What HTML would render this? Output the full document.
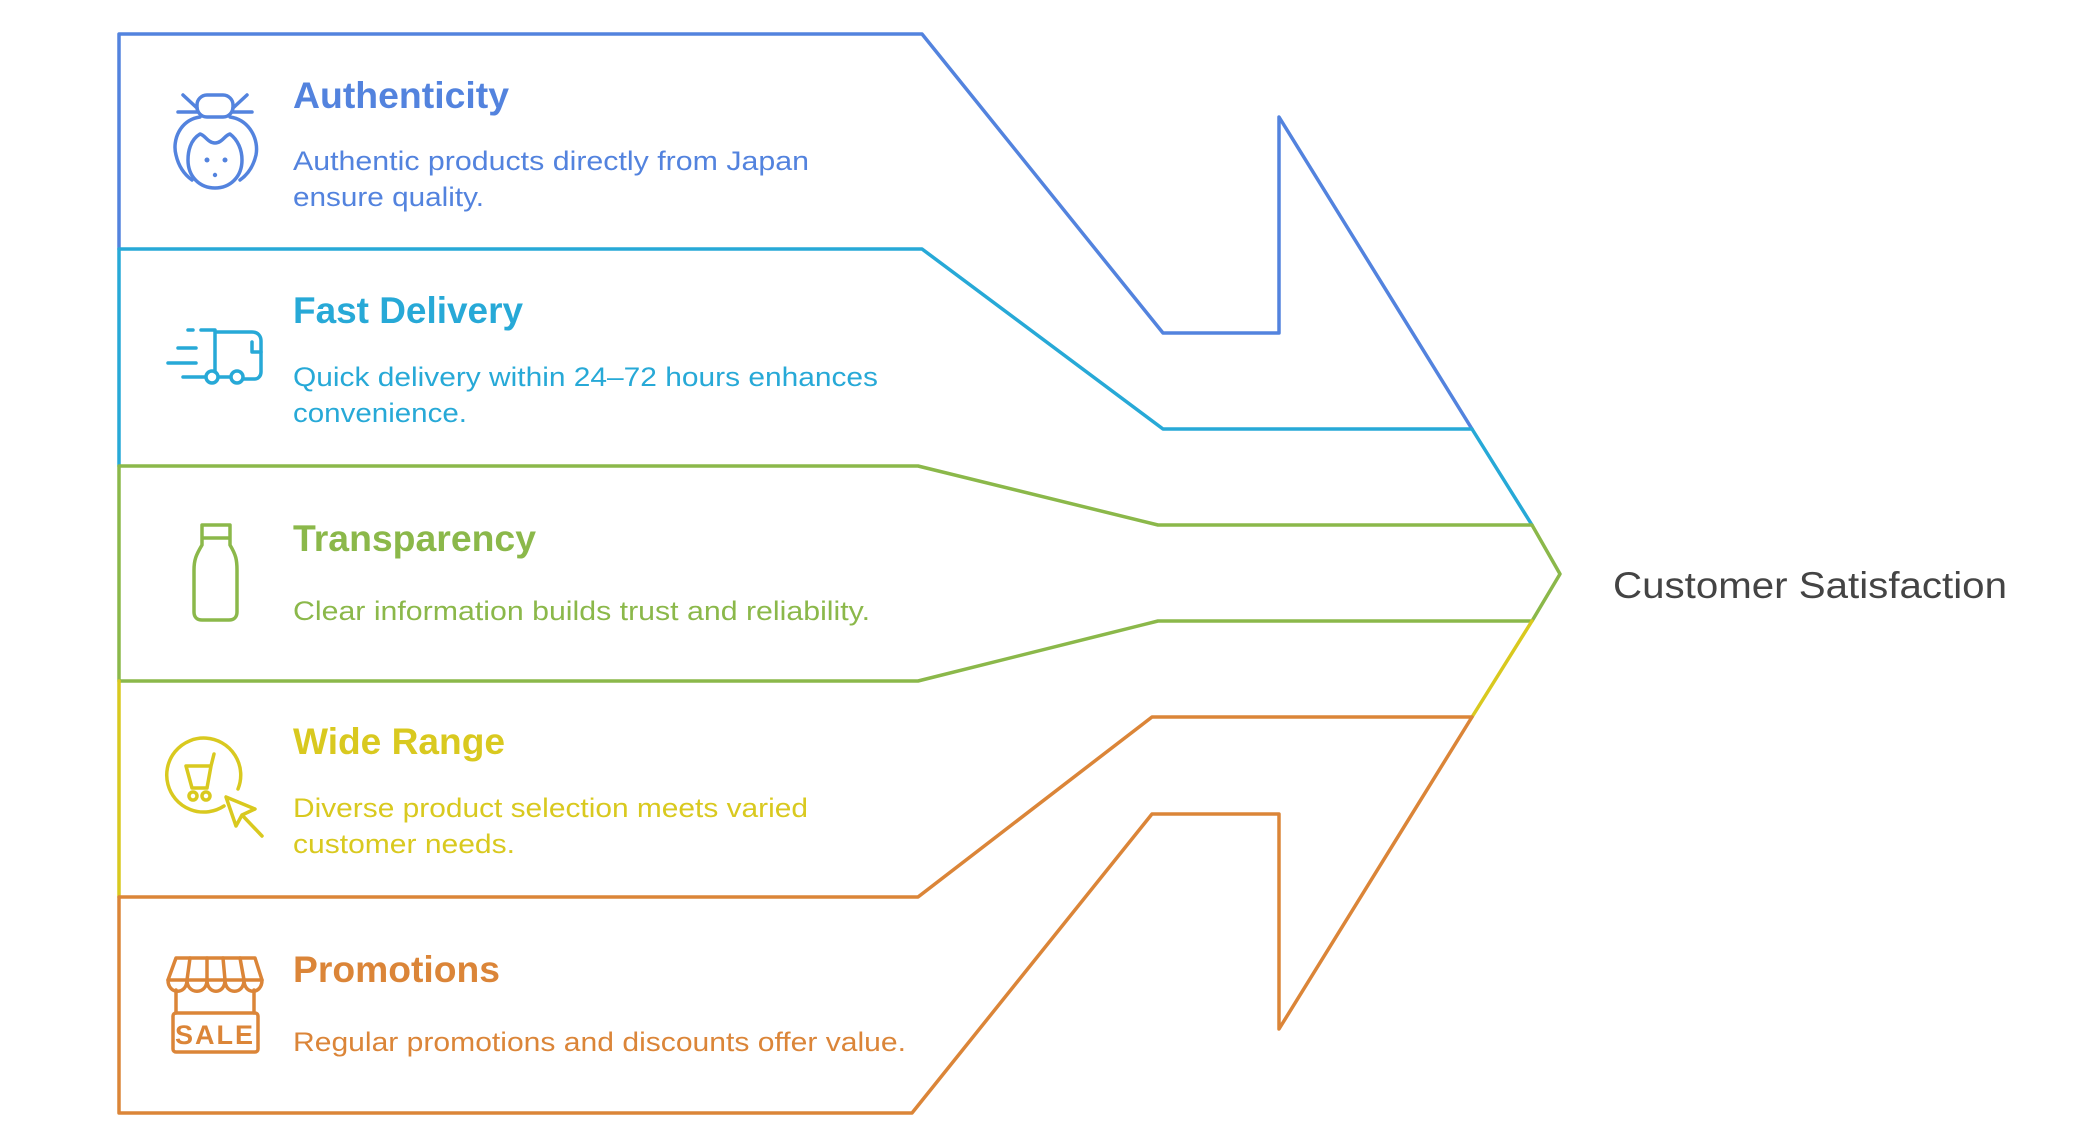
<!DOCTYPE html>
<html><head><meta charset="utf-8"><style>
html,body{margin:0;padding:0;background:#fff;}
svg{display:block;}
text{font-family:"Liberation Sans",sans-serif;}
.t{font-weight:bold;font-size:37px;}
.d{font-size:27px;}
</style></head><body>
<svg width="2096" height="1133" viewBox="0 0 2096 1133" xmlns="http://www.w3.org/2000/svg">
<g fill="none" stroke-width="3.5" stroke-linejoin="round" stroke-linecap="round">
<path d="M119,249 V34 H922 L1163,333 H1279 V117 L1472,429" stroke="#5383DE"/>
<path d="M119,466 V249 H922 L1163,429 H1472 L1532,525" stroke="#27A9D7"/>
<path d="M119,681 V466 H918 L1158,525 H1532 L1560,574 L1532,621 H1158 L918,681 H119" stroke="#8BB84A"/>
<path d="M119,897 V681" stroke="#D9C91F"/>
<path d="M1532,621 L1472,717" stroke="#D9C91F"/>
<path d="M119,897 V1113 H912 L1152,814 H1279 V1029 L1472,717 H1152 L918,897 H119" stroke="#DB8538"/>
</g>

<g fill="none" stroke-width="3.5" stroke-linecap="round" stroke-linejoin="round">
 <g stroke="#5383DE">
  <rect x="197" y="95" width="36" height="22" rx="10"/>
  <path d="M183,95 L197,108 M247,95 L233,108 M178,112 H197 M233,112 H252"/>
  <path d="M200,117 C180,120 172,140 176,155 C179,168 185,175 192,180 M230,117 C250,120 259,140 256,155 C253,168 247,175 240,180"/>
  <path d="M215,143 C208,143 205,135 200,134 C190,140 188,152 188,160 C188,177 200,188 215,188 C230,188 242,177 242,160 C242,150 238,140 230,134 C225,135 222,143 215,143 Z"/>
 </g>
 <g fill="#5383DE"><circle cx="207" cy="160" r="2.5"/><circle cx="225" cy="160" r="2.5"/><circle cx="215" cy="175" r="2.2"/></g>
 <g stroke="#27A9D7">
  <path d="M188,330 H193 M201,330 H215 V372 M215,332 H252 C258,332 261,336 261,341 V372 C261,376 258,379 255,379 H244"/>
  <path d="M252,342 V352 H261"/>
  <path d="M178,348 H196 M168,363 H196 M183,377 H205 M219,377 H230"/>
  <circle cx="212" cy="377" r="6"/><circle cx="237" cy="377" r="6"/>
 </g>
 <g stroke="#8BB84A">
  <path d="M202,525 H230 V545 C236,555 237,560 237,570 V612 C237,617 234,620 229,620 H202 C197,620 194,617 194,612 V570 C194,560 196,555 202,545 Z M202,538 H230"/>
 </g>
 <g stroke="#D9C91F">
  <path d="M224,806 A37,37 0 1 1 238,789"/>
  <path d="M186,766 H211 L207,788 H192 Z M211,766 L214,754"/>
  <circle cx="193" cy="796" r="4"/><circle cx="206" cy="796" r="4"/>
  <path d="M226,797 L236,826 L242,815 L255,809 Z M242,815 L262,836"/>
 </g>
 <g stroke="#DB8538">
  <path d="M176,958 H255 L262,980 H168 Z"/>
  <path d="M190,958 L187,980 M207,958 L207,980 M223,958 L225,980 M240,958 L244,980"/>
  <path d="M168,980 C168,995 187,995 187,980 C187,995 207,995 207,980 C207,995 225,995 225,980 C225,995 244,995 244,980 C244,995 262,995 262,980"/>
  <path d="M176,990 V1013 M254,990 V1013"/>
  <rect x="173" y="1013" width="85" height="39" rx="3"/>
 </g>
 <text x="215" y="1044" text-anchor="middle" font-size="27" font-weight="bold" fill="#DB8538" style="font-family:'Liberation Sans Narrow','Liberation Sans',sans-serif" letter-spacing="2">SALE</text>
</g>

<text class="t" x="293" y="108" fill="#5383DE" textLength="216" lengthAdjust="spacingAndGlyphs">Authenticity</text>
<text class="d" x="293" y="170" fill="#5383DE" textLength="516" lengthAdjust="spacingAndGlyphs">Authentic products directly from Japan</text>
<text class="d" x="293" y="206" fill="#5383DE" textLength="191" lengthAdjust="spacingAndGlyphs">ensure quality.</text>

<text class="t" x="293" y="323" fill="#27A9D7" textLength="230" lengthAdjust="spacingAndGlyphs">Fast Delivery</text>
<text class="d" x="293" y="386" fill="#27A9D7" textLength="585" lengthAdjust="spacingAndGlyphs">Quick delivery within 24–72 hours enhances</text>
<text class="d" x="293" y="422" fill="#27A9D7" textLength="174" lengthAdjust="spacingAndGlyphs">convenience.</text>

<text class="t" x="293" y="551" fill="#8BB84A" textLength="243" lengthAdjust="spacingAndGlyphs">Transparency</text>
<text class="d" x="293" y="620" fill="#8BB84A" textLength="577" lengthAdjust="spacingAndGlyphs">Clear information builds trust and reliability.</text>

<text class="t" x="293" y="754" fill="#D9C91F" textLength="212" lengthAdjust="spacingAndGlyphs">Wide Range</text>
<text class="d" x="293" y="817" fill="#D9C91F" textLength="515" lengthAdjust="spacingAndGlyphs">Diverse product selection meets varied</text>
<text class="d" x="293" y="853" fill="#D9C91F" textLength="222" lengthAdjust="spacingAndGlyphs">customer needs.</text>

<text class="t" x="293" y="982" fill="#DB8538" textLength="207" lengthAdjust="spacingAndGlyphs">Promotions</text>
<text class="d" x="293" y="1051" fill="#DB8538" textLength="613" lengthAdjust="spacingAndGlyphs">Regular promotions and discounts offer value.</text>

<text x="1613" y="598" font-size="37" fill="#444" textLength="394" lengthAdjust="spacingAndGlyphs">Customer Satisfaction</text>
</svg>
</body></html>
